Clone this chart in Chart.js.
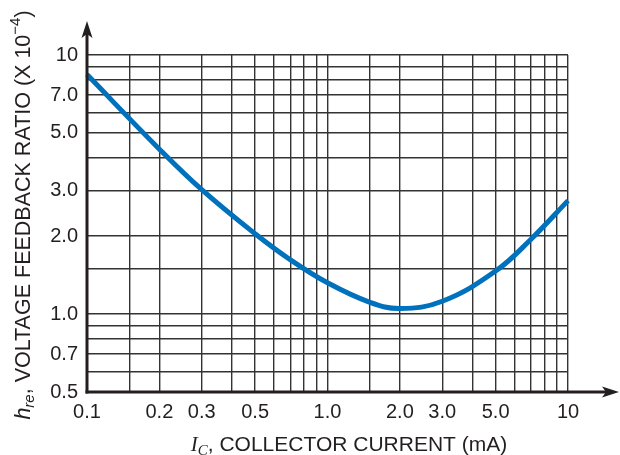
<!DOCTYPE html>
<html>
<head>
<meta charset="utf-8">
<script src="https://cdn.jsdelivr.net/npm/chart.js@4/dist/chart.umd.min.js"></script>
<style>
  html, body { margin: 0; padding: 0; background: #ffffff; }
  #wrap { width: 620px; height: 455px; position: relative; }
</style>
</head>
<body>
<div id="wrap"><canvas id="c" width="620" height="455"></canvas></div>
<script>
// ---- data ----
const collectorCurrent = [0.1, 0.2, 0.3, 0.5, 0.7, 1.0, 1.5, 2.0, 3.0, 5.0, 7.0, 10];
const hreValues        = [8.4, 4.33, 3.02, 2.04, 1.62, 1.32, 1.11, 1.05, 1.12, 1.465, 1.94, 2.74];

const xGridValues  = [0.1, 0.15, 0.2, 0.3, 0.4, 0.5, 0.6, 0.7, 0.8, 0.9, 1, 1.5, 2, 3, 4, 5, 6, 7, 8, 9, 10];
const xLabelValues = [0.1, 0.2, 0.3, 0.5, 1, 2, 3, 5, 10];
const xLabelTexts  = ['0.1', '0.2', '0.3', '0.5', '1.0', '2.0', '3.0', '5.0', '10'];

const yGridValues  = [0.5, 0.6, 0.7, 0.8, 0.9, 1, 1.5, 2, 3, 4, 5, 6, 7, 8, 9, 10];
const yLabelValues = [0.5, 0.7, 1, 2, 3, 5, 7, 10];
const yLabelTexts  = ['0.5', '0.7', '1.0', '2.0', '3.0', '5.0', '7.0', '10'];

const TEXT = '#231f20';
const SANS = '"Liberation Sans", Arial, sans-serif';
const SERIF = '"Liberation Serif", "Times New Roman", serif';

function labelFor(values, texts, v) {
  for (let i = 0; i < values.length; i++) {
    if (Math.abs(values[i] - v) < 1e-9) return texts[i];
  }
  return '';
}

// axes with arrowheads and the rich-text axis titles
const decorations = {
  id: 'decorations',
  afterDraw(chart) {
    const ctx = chart.ctx;
    const a = chart.chartArea;
    ctx.save();
    ctx.strokeStyle = TEXT;
    ctx.fillStyle = TEXT;
    ctx.lineWidth = 3;
    ctx.lineCap = 'butt';
    // y axis
    const yTip = 21;
    ctx.beginPath();
    ctx.moveTo(a.left, a.bottom + 1.5);
    ctx.lineTo(a.left, yTip + 10);
    ctx.stroke();
    ctx.beginPath();
    ctx.moveTo(a.left, yTip);
    ctx.lineTo(a.left + 5.5, yTip + 17);
    ctx.lineTo(a.left, yTip + 13);
    ctx.lineTo(a.left - 5.5, yTip + 17);
    ctx.closePath();
    ctx.fill();
    // x axis
    const xTip = 619;
    ctx.beginPath();
    ctx.moveTo(a.left - 1.5, a.bottom);
    ctx.lineTo(xTip - 10, a.bottom);
    ctx.stroke();
    ctx.beginPath();
    ctx.moveTo(xTip, a.bottom);
    ctx.lineTo(xTip - 17, a.bottom - 5.5);
    ctx.lineTo(xTip - 13, a.bottom);
    ctx.lineTo(xTip - 17, a.bottom + 5.5);
    ctx.closePath();
    ctx.fill();

    // y title (rotated)
    const fs = 21.5;
    const ySegs = [
      { t: 'h', f: 'italic ' + fs + 'px ' + SANS, dy: 0 },
      { t: 're', f: 'italic ' + Math.round(fs * 0.72) + 'px ' + SANS, dy: fs * 0.28 },
      { t: ', VOLTAGE FEEDBACK RATIO (X 10', f: fs + 'px ' + SANS, dy: 0 },
      { t: '\u22124', f: Math.round(fs * 0.72) + 'px ' + SANS, dy: -fs * 0.38 },
      { t: ')', f: fs + 'px ' + SANS, dy: 0 }
    ];
    drawRich(ctx, ySegs, 24, 215, -Math.PI / 2);

    // x title
    const xs = 21;
    const xSegs = [
      { t: 'I', f: 'italic ' + xs + 'px ' + SERIF, dy: 0 },
      { t: 'C', f: 'italic ' + Math.round(xs * 0.72) + 'px ' + SERIF, dy: xs * 0.28 },
      { t: ', COLLECTOR CURRENT (mA)', f: xs + 'px ' + SANS, dy: 0 }
    ];
    drawRich(ctx, xSegs, 349, 445, 0);
    ctx.restore();
  }
};

function drawRich(ctx, segs, cx, cy, rot) {
  ctx.save();
  ctx.translate(cx, cy);
  ctx.rotate(rot);
  ctx.textBaseline = 'middle';
  ctx.textAlign = 'left';
  ctx.fillStyle = TEXT;
  let total = 0;
  segs.forEach(s => { ctx.font = s.f; s.w = ctx.measureText(s.t).width; total += s.w; });
  let x = -total / 2;
  segs.forEach(s => {
    ctx.font = s.f;
    ctx.fillText(s.t, x, s.dy);
    x += s.w;
  });
  ctx.restore();
}

new Chart(document.getElementById('c'), {
  type: 'line',
  data: {
    datasets: [{
      data: collectorCurrent.map((x, i) => ({ x: x, y: hreValues[i] })),
      borderColor: '#0071bc',
      borderWidth: 5,
      pointRadius: 0,
      fill: false,
      tension: 0.4,
      clip: false
    }]
  },
  options: {
    responsive: false,
    animation: false,
    events: [],
    layout: { padding: { left: 0, right: 52, top: 55, bottom: 0 } },
    plugins: { legend: { display: false }, tooltip: { enabled: false } },
    scales: {
      x: {
        type: 'logarithmic',
        min: 0.1, max: 10,
        afterBuildTicks: s => { s.ticks = xGridValues.map(v => ({ value: v })); },
        afterFit: s => { s.height = 63; },
        grid: { color: '#333333', lineWidth: 1.4, drawTicks: false },
        border: { display: false },
        ticks: {
          autoSkip: false, maxRotation: 0, padding: 8, color: TEXT,
          font: { family: SANS, size: 20 },
          callback: v => labelFor(xLabelValues, xLabelTexts, v)
        }
      },
      y: {
        type: 'logarithmic',
        min: 0.5, max: 10,
        afterBuildTicks: s => { s.ticks = yGridValues.map(v => ({ value: v })); },
        afterFit: s => { s.width = 87; },
        grid: { color: '#333333', lineWidth: 1.4, drawTicks: false },
        border: { display: false },
        ticks: {
          autoSkip: false, padding: 9, color: TEXT,
          font: { family: SANS, size: 20 },
          callback: v => labelFor(yLabelValues, yLabelTexts, v)
        }
      }
    }
  },
  plugins: [decorations]
});
</script>
</body>
</html>
